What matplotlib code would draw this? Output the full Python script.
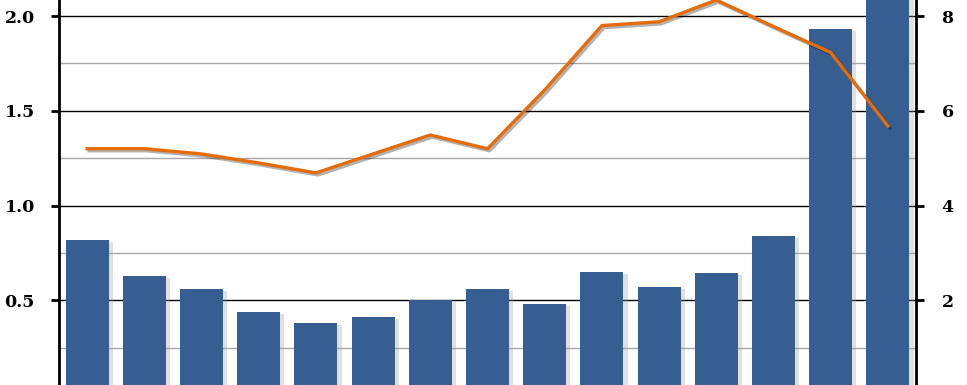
#!/usr/bin/env python3
"""Bars (left axis) with an orange line (right axis), Excel-style look."""

import numpy as np
import matplotlib
matplotlib.use('Agg')
import matplotlib.pyplot as plt
import matplotlib.patheffects as pe

# values
categories = list(range(1, 16))
bar_values = [0.82, 0.63, 0.56, 0.44, 0.38, 0.41, 0.50, 0.56,
              0.48, 0.65, 0.57, 0.645, 0.84, 1.93, 2.20]
line_values = [5.20, 5.20, 5.09, 4.90, 4.69, 5.09, 5.49, 5.20,
               6.44, 7.80, 7.88, 8.34, 7.78, 7.23, 5.68]
left_ticks = [0.5, 1.0, 1.5, 2.0]
left_minor = [0.25, 0.75, 1.25, 1.75]
right_ticks = [2, 4, 6, 8]

BAR_COLOR = '#365E91'
LINE_COLOR = '#E46C0A'
FONT = dict(family='DejaVu Serif', weight='bold', size=12.5)


def main():
    fig = plt.figure(figsize=(9.67, 3.85), dpi=100)
    ax = fig.add_axes([58.5 / 967, 0.0, (916.5 - 58.5) / 967, 1.0])
    x = np.arange(len(categories))

    # grid: black majors, grey minors
    for v in left_minor:
        ax.axhline(v, color='#A8A8A8', lw=1.0, zorder=0)
    for v in left_ticks:
        ax.axhline(v, color='black', lw=1.0, zorder=0)

    bars = ax.bar(x, bar_values, width=0.75, color=BAR_COLOR, zorder=2)
    for b in bars:
        b.set_path_effects([pe.SimplePatchShadow(offset=(3, -1.5), shadow_rgbFace='#999999', alpha=0.3),
                            pe.Normal()])

    ax.set_xlim(-0.5, len(categories) - 0.5)
    ax.set_ylim(0.053, 2.085)
    ax.set_yticks(left_ticks)
    ax.set_yticklabels([f'{v:.1f}' for v in left_ticks], fontdict=FONT)
    ax.set_xticks([])
    ax.tick_params(axis='y', length=6, width=2, direction='out', pad=11)
    for side in ('top', 'bottom', 'right'):
        ax.spines[side].set_visible(False)
    ax.spines['left'].set_linewidth(2)

    ax2 = ax.twinx()
    ax2.plot(x, line_values, color=LINE_COLOR, lw=2.4, solid_joinstyle='round', zorder=3,
             path_effects=[pe.SimpleLineShadow(offset=(1.5, -1.5), alpha=0.3), pe.Normal()])
    ax2.set_ylim(0.053 * 4, 2.085 * 4)
    ax2.set_yticks(right_ticks)
    ax2.set_yticklabels([str(v) for v in right_ticks], fontdict=FONT)
    ax2.tick_params(axis='y', length=6, width=2, direction='out', pad=12)
    for side in ('top', 'bottom', 'left'):
        ax2.spines[side].set_visible(False)
    ax2.spines['right'].set_linewidth(2)

    fig.savefig('out.png', dpi=100)
    plt.close(fig)


if __name__ == "__main__":
    main()
